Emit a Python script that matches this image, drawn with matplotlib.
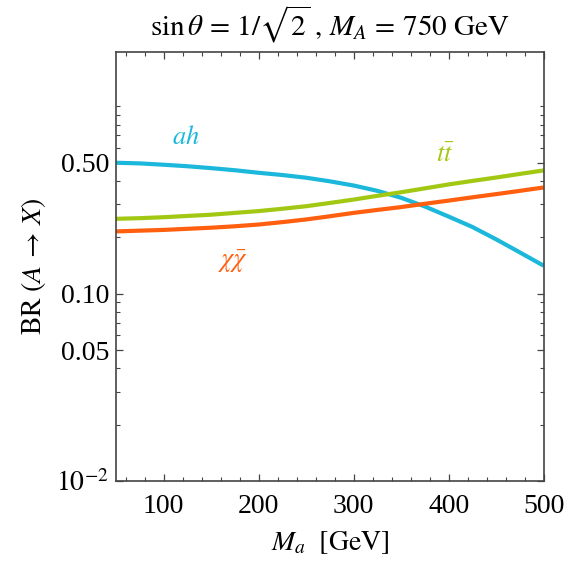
import matplotlib
matplotlib.use("Agg")
import matplotlib.pyplot as plt
from matplotlib.ticker import FixedLocator, FixedFormatter, NullFormatter

plt.rcParams['font.family'] = ['Liberation Serif', 'DejaVu Serif']
plt.rcParams['mathtext.fontset'] = 'stix'

# Data
ma = [50, 75, 100, 125, 150, 175, 200, 225, 250, 275, 300, 325, 350, 375, 400, 425, 450, 475, 500]
br_ah = [0.500, 0.496, 0.488, 0.479, 0.468, 0.456, 0.442, 0.430, 0.416, 0.398, 0.378, 0.354,
         0.325, 0.292, 0.258, 0.227, 0.195, 0.166, 0.141]
br_tt = [0.251, 0.253, 0.256, 0.260, 0.264, 0.270, 0.276, 0.284, 0.293, 0.305, 0.318, 0.333,
         0.348, 0.365, 0.383, 0.400, 0.417, 0.436, 0.455]
br_chi = [0.215, 0.217, 0.219, 0.222, 0.225, 0.229, 0.234, 0.241, 0.249, 0.259, 0.270, 0.280,
          0.290, 0.302, 0.314, 0.327, 0.340, 0.354, 0.369]

ytick_vals = [0.01, 0.05, 0.10, 0.50]
ytick_labels = [r'$10^{-2}$', '0.05', '0.10', '0.50']
xtick_vals = [100, 200, 300, 400, 500]

c_blue = '#1cb8dc'
c_green = '#a2c814'
c_orange = '#ff5f0f'

fig = plt.figure(figsize=(5.66, 5.63), dpi=100)
ax = fig.add_axes([0.205, 0.1456, 0.7556, 0.762])

ax.plot(ma, br_ah, color=c_blue, lw=3, solid_capstyle='butt')
ax.plot(ma, br_tt, color=c_green, lw=3, solid_capstyle='butt')
ax.plot(ma, br_chi, color=c_orange, lw=3, solid_capstyle='butt')

ax.set_yscale('log')
ax.set_xlim(50, 500)
ax.set_ylim(0.01, 1.95)

ax.yaxis.set_major_locator(FixedLocator(ytick_vals))
ax.yaxis.set_major_formatter(FixedFormatter(ytick_labels))
minors = [k * 10.0**e for e in (-2, -1, 0) for k in range(1, 10)]
minors = [m for m in minors if m not in ytick_vals and m <= 1.95]
ax.yaxis.set_minor_locator(FixedLocator(minors))
ax.yaxis.set_minor_formatter(NullFormatter())

ax.xaxis.set_major_locator(FixedLocator(xtick_vals))
ax.xaxis.set_minor_locator(FixedLocator(list(range(60, 500, 20))))

ax.tick_params(which='both', direction='in', top=True, right=True, color='#444444')
ax.tick_params(which='major', length=5, width=0.9, labelsize=20)
ax.tick_params(axis='x', which='major', pad=9)
ax.tick_params(axis='y', which='major', pad=5)
ax.tick_params(which='minor', length=3, width=0.8)
for s in ax.spines.values():
    s.set_color('#444444')
    s.set_linewidth(1.2)

ax.text(124, 0.68, r'$ah$', color=c_blue, fontsize=19, ha='center', va='center')
ax.text(396, 0.545, r'$t\bar{t}$', color=c_green, fontsize=19, ha='center', va='center')
ax.text(173, 0.148, r'$\chi\bar{\chi}$', color=c_orange, fontsize=19, ha='center', va='center')

ax.set_title(r'$\sin\theta\, =\, 1/\sqrt{2}\;,\, M_A\, =\, 750\ \mathrm{GeV}$', fontsize=21, pad=12)
ax.set_xlabel(r'$M_a\ \ [\mathrm{GeV}]$', fontsize=20, labelpad=8)
ax.set_ylabel(r'$\mathrm{BR}\ (A\,\rightarrow\,X)$', fontsize=20, labelpad=6)

fig.savefig('out.png', dpi=100)
